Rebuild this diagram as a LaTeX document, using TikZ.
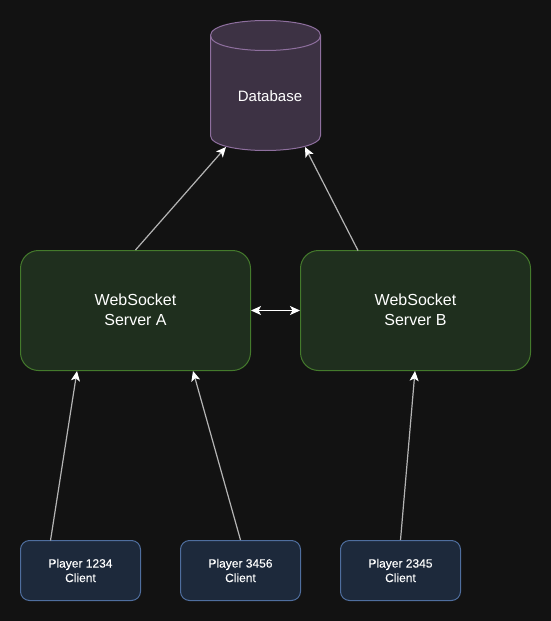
\documentclass[tikz,border=0pt]{standalone}
\usepackage{fontspec}
\setmainfont{Liberation Sans}
\newfontfamily\clientfont[FakeBold=0.2]{Liberation Sans}
\usetikzlibrary{arrows.meta}
\definecolor{bgc}{HTML}{121212}
\definecolor{dbfill}{HTML}{3D3244}
\definecolor{dbline}{HTML}{8E6F9E}
\definecolor{srvfill}{HTML}{1F2F1E}
\definecolor{srvline}{HTML}{447A2C}
\definecolor{cltfill}{HTML}{1D293B}
\definecolor{cltline}{HTML}{4F6E9E}
\definecolor{wirec}{HTML}{B4B4B4}
\tikzset{
  x=1pt,y=-1pt,
  server/.style={draw=srvline,fill=srvfill,rounded corners=18pt,minimum width=230pt,minimum height=120pt,inner sep=0pt,text=white,font=\fontsize{16}{20}\selectfont,align=center,line width=1pt},
  client/.style={draw=cltline,fill=cltfill,rounded corners=9pt,minimum width=120pt,minimum height=60pt,inner sep=0pt,text=white,font=\clientfont\fontsize{12}{14.5}\selectfont,align=center,line width=1pt},
  dbline style/.style={draw=dbline,line width=1pt},
  dblabel/.style={text=white,font=\fontsize{15}{19}\selectfont,inner sep=0pt},
  wire/.style={draw=wirec,line width=1.2pt,-{Stealth[inset=2.5pt,length=10pt,width=9pt,color=white,fill=white]}},
  wirew/.style={draw=white,line width=1.4pt,{Stealth[inset=2.5pt,length=10pt,width=9pt]}-{Stealth[inset=2.5pt,length=10pt,width=9pt]}},
}
\begin{document}
\begin{tikzpicture}
\path[use as bounding box,fill=bgc] (0,0) rectangle (551,621);
\fill[dbfill] (210.5,35.5) .. controls (210.5,15.5) and (320.5,15.5) .. (320.5,35.5)
  -- (320.5,135.5) .. controls (320.5,155.5) and (210.5,155.5) .. (210.5,135.5) -- cycle;
\draw[dbline style] (210.5,35.5) .. controls (210.5,15.5) and (320.5,15.5) .. (320.5,35.5)
  -- (320.5,135.5) .. controls (320.5,155.5) and (210.5,155.5) .. (210.5,135.5) -- cycle;
\draw[dbline style] (210.5,35.5) .. controls (210.5,55.5) and (320.5,55.5) .. (320.5,35.5);
\node[dblabel] (db) at (270,96) {Database};
\coordinate (dbinA) at (226,147);
\coordinate (dbinB) at (305,147);
\node[server] (sa) at (135.5,310.5) {\raisebox{0.7pt}{WebSocket}\\\raisebox{0.7pt}{Server A}};
\node[server] (sb) at (415.5,310.5) {\raisebox{0.7pt}{WebSocket}\\\raisebox{0.7pt}{Server B}};
\node[client] (c1) at (80.5,570.5) {Player 1234\\Client};
\node[client] (c2) at (240.5,570.5) {Player 3456\\Client};
\node[client] (c3) at (400.5,570.5) {Player 2345\\Client};
\coordinate (saA) at (77,371);
\coordinate (saB) at (193,371);
\coordinate (sbA) at (415,371);
\coordinate (c1out) at (50.5,540.5);
\coordinate (sbup) at (358,250.5);
\draw[wire] (sa.north) -- (dbinA);
\draw[wire] (sbup) -- (dbinB);
\draw[wirew] (sa.east) -- (sb.west);
\draw[wire] (c1out) -- (saA);
\draw[wire] (c2.north) -- (saB);
\draw[wire] (c3.north) -- (sbA);
\end{tikzpicture}
\end{document}
